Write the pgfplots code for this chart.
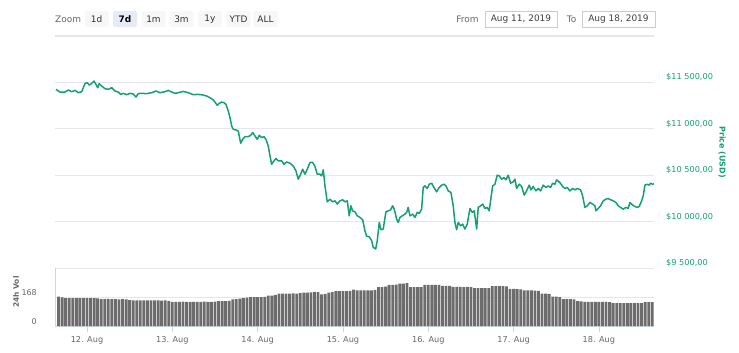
\documentclass[border=0pt]{standalone}
\usepackage{pgfplots}
\pgfplotsset{compat=1.18}
\usepackage{fontspec}
\setmainfont{DejaVu Sans}
\definecolor{cgreen}{RGB}{22,160,110}
\definecolor{gridc}{RGB}{230,230,230}
\definecolor{axc}{RGB}{204,214,235}
\definecolor{lab}{RGB}{102,102,102}
\definecolor{barc}{RGB}{108,108,108}
\definecolor{btn}{RGB}{247,247,247}
\definecolor{btnsel}{RGB}{230,235,245}
\definecolor{boxc}{RGB}{204,204,204}
\begin{document}
\begin{tikzpicture}[x=1bp,y=1bp]
\path[use as bounding box] (0,0) rectangle (739,-352);
% toolbar
\node[anchor=west, inner sep=0, text=lab, font=\fontsize{9}{10}\selectfont] at (55,-19) {Zoom};
\foreach \cx/\t in {96.5/1d, 153.5/1m, 181.5/3m, 210/1y, 238.5/YTD, 265.5/ALL}
  \node[fill=btn, rounded corners=1.5bp, minimum width=24bp, minimum height=16bp, inner sep=0, text=black!80, font=\fontsize{9}{10}\selectfont] at (\cx,-19) {\t};
\node[fill=btnsel, rounded corners=1.5bp, minimum width=24bp, minimum height=16bp, inner sep=0, text=black, font=\fontsize{9}{10}\selectfont\bfseries] at (125,-19) {7d};
\node[text=lab, inner sep=0, font=\fontsize{9}{10}\selectfont] at (467.5,-19) {From};
\draw[boxc, line width=0.8bp] (485,-11) rectangle (557,-27);
\node[text=black!75, inner sep=0, font=\fontsize{9}{10}\selectfont] at (521,-19) {Aug 11, 2019};
\node[text=lab, inner sep=0, font=\fontsize{9}{10}\selectfont] at (571.5,-19) {To};
\draw[boxc, line width=0.8bp] (582,-11) rectangle (655,-27);
\node[text=black!75, inner sep=0, font=\fontsize{9}{10}\selectfont] at (618.5,-19) {Aug 18, 2019};
\draw[gridc, line width=1.5bp] (55,-36) -- (654,-36);

% price axis
\begin{axis}[at={(55bp,-268bp)}, anchor=south west, scale only axis,
  width=599bp, height=232bp, xmin=15, xmax=183.5, ymin=9500, ymax=12000,
  axis x line=none, axis y line*=right, y axis line style={draw=none},
  scaled y ticks=false,
  ytick={9500,10000,10500,11000,11500},
  yticklabels={\$9 500{,}00,\$10 000{,}00,\$10 500{,}00,\$11 000{,}00,\$11 500{,}00},
  yticklabel style={inner sep=0pt, anchor=west, xshift=12bp, yshift=5bp, text=cgreen, font=\fontsize{8.2}{10}\selectfont},
  ymajorgrids, grid style={gridc, line width=1bp}, major tick length=0pt, clip=false]
\addplot[cgreen, line width=1.5bp, line join=round] coordinates {
(15.28,11425)(16.41,11396)(17.81,11396)(18.74,11417)(19.70,11400)(20.63,11414)(21.55,11389)(22.51,11400)
(23.44,11489)(24.08,11496)(24.65,11471)(25.32,11489)(25.97,11514)(26.53,11478)(27.01,11443)(27.46,11486)
(28.13,11461)(29.06,11432)(29.99,11425)(30.95,11443)(31.88,11407)(32.80,11396)(33.48,11371)(34.21,11382)
(35.17,11368)(36.09,11382)(37.02,11375)(37.78,11342)(38.43,11379)(39.38,11382)(40.79,11379)(42.20,11389)
(43.41,11407)(44.53,11389)(45.94,11400)(46.87,11414)(47.82,11396)(48.75,11382)(49.68,11389)(51.08,11403)
(52.49,11389)(53.90,11368)(55.30,11371)(56.71,11364)(57.67,11353)(58.59,11335)(59.35,11317)(60.00,11288)
(60.65,11253)(61.21,11274)(61.88,11288)(62.53,11282)(63.09,11263)(63.74,11192)(64.22,11120)(64.70,11030)
(65.15,10995)(65.91,10987)(66.55,10976)(67.23,10844)(67.79,10887)(68.44,10916)(69.37,10916)(70.04,10930)
(70.61,10959)(71.25,10923)(71.90,10887)(72.46,10930)(73.13,10905)(73.78,10916)(74.34,10887)(74.99,10815)
(75.47,10708)(75.94,10618)(76.59,10654)(77.16,10680)(77.80,10654)(78.76,10654)(79.41,10618)(80.17,10643)
(81.09,10629)(82.02,10600)(82.78,10546)(83.43,10457)(84.10,10511)(84.66,10565)(85.31,10511)(85.96,10565)
(86.72,10637)(87.48,10637)(88.13,10594)(88.77,10511)(89.53,10511)(90.01,10493)(90.46,10558)(90.94,10385)
(91.58,10213)(92.34,10242)(93.10,10213)(93.75,10224)(94.39,10189)(95.16,10224)(95.91,10235)(96.56,10213)
(97.21,10224)(97.77,10062)(98.25,10170)(98.72,10116)(99.38,10106)(100.02,10062)(100.78,10045)(101.54,10019)
(102.19,9901)(102.66,9841)(103.39,9837)(104.07,9794)(104.52,9722)(105.20,9705)(105.65,9794)(106.21,9991)
(106.69,9912)(107.33,9920)(108.09,10106)(108.74,10116)(109.42,10127)(109.98,10170)(110.43,10134)(111.10,10027)
(111.55,9991)(112.03,10045)(112.68,10062)(113.44,10081)(113.91,10099)(114.36,10153)(114.84,10062)(115.60,10081)
(116.25,10045)(116.89,10099)(117.46,10088)(118.13,10134)(118.58,10368)(119.06,10385)(119.71,10357)(120.27,10403)
(120.94,10414)(121.59,10368)(122.35,10321)(123.08,10368)(123.76,10393)(124.41,10403)(124.97,10385)(125.62,10331)
(126.38,10314)(127.02,10170)(127.50,9991)(127.98,9912)(128.43,9991)(129.10,9955)(129.67,9973)(130.31,9920)
(130.96,9973)(131.72,10142)(132.37,10099)(132.93,10116)(133.61,9920)(134.05,10153)(134.73,10170)(135.29,10189)
(135.94,10142)(136.58,10153)(137.15,10116)(138.10,10385)(138.75,10403)(139.39,10500)(139.96,10493)(140.63,10457)
(141.28,10475)(141.84,10450)(142.49,10500)(143.16,10414)(143.90,10429)(144.38,10457)(144.85,10357)(145.58,10403)
(146.26,10379)(146.99,10286)(147.66,10331)(148.39,10393)(148.88,10342)(149.52,10379)(150.28,10331)(150.93,10357)
(151.60,10331)(152.33,10393)(153.09,10368)(153.74,10385)(154.41,10368)(154.97,10414)(155.63,10403)(156.10,10450)
(157.03,10421)(157.79,10379)(158.44,10357)(159.08,10368)(159.84,10331)(160.60,10357)(161.25,10342)(161.89,10357)
(162.85,10342)(163.41,10278)(164.06,10153)(164.71,10170)(165.47,10206)(166.23,10189)(166.88,10170)(167.16,10116)
(167.80,10142)(168.48,10170)(169.21,10224)(169.97,10242)(170.62,10249)(171.29,10235)(172.03,10224)(172.78,10206)
(173.43,10170)(174.11,10153)(174.84,10134)(175.59,10153)(176.24,10142)(176.72,10206)(177.48,10178)(178.13,10163)
(178.77,10153)(179.34,10163)(180.01,10224)(180.47,10278)(180.94,10393)(181.59,10403)(182.16,10393)(182.55,10414)
(183.11,10403)(183.48,10407)};
\end{axis}
\node[rotate=-90, text=cgreen, inner sep=0, font=\fontsize{8}{10}\selectfont\bfseries] at (722,-152) {Price (USD)};

% volume axis
\begin{axis}[at={(55bp,-326bp)}, anchor=south west, scale only axis,
  width=599bp, height=58bp, xmin=15, xmax=183.5, ymin=0, ymax=336,
  axis x line*=bottom, axis y line*=left,
  x axis line style={axc, line width=1bp}, y axis line style={axc, line width=0.8bp},
  xtick={24,48,72,96,120,144,168},
  xticklabels={12. Aug,13. Aug,14. Aug,15. Aug,16. Aug,17. Aug,18. Aug},
  xtick style={axc, line width=0.8bp}, tick align=outside, major tick length=6bp,
  xticklabel style={text=lab, font=\fontsize{8.2}{10}\selectfont, yshift=-1bp},
  ytick={0,168}, yticklabels={0,168}, ytick style={draw=none},
  yticklabel style={inner sep=0pt, anchor=east, xshift=-12bp, yshift=4bp, text=lab, font=\fontsize{8}{9}\selectfont},
  ymajorgrids, grid style={gridc, line width=1bp}, clip=false]
\addplot[ybar, bar width=0.8, fill=barc, draw=none] coordinates {
(16,170)(17,166)(18,162)(19,161)(20,162)(21,162)(22,161)(23,162)(24,162)(25,161)(26,162)(27,160)
(28,156)(29,156)(30,157)(31,156)(32,156)(33,155)(34,156)(35,155)(36,150)
(37,148)(38,148)(39,149)(40,148)(41,148)(42,148)(43,149)(44,148)(45,147)(46,148)(47,146)
(48,140)(49,140)(50,140)(51,141)(52,140)(53,140)(54,140)(55,140)(56,140)(57,141)(58,140)(59,140)(60,141)
(61,144)(62,144)(63,144)(64,146)(65,154)(66,156)(67,158)(68,162)(69,164)
(70,168)(71,168)(72,167)(73,168)(74,169)(75,176)(76,176)(77,180)
(78,188)(79,188)(80,188)(81,188)(82,189)(83,188)(84,190)(85,194)(86,194)(87,195)(88,198)(89,197)
(90,184)(91,186)(92,194)(93,196)(94,202)(95,202)(96,202)(97,202)(98,203)(99,211)
(100,207)(101,207)(102,207)(103,207)(104,207)(105,208)(106,225)(107,225)(108,228)
(109,239)(110,239)(111,240)(112,245)(113,245)(114,249)(115,225)(116,225)(117,225)(118,226)
(119,239)(120,239)(121,239)(122,238)(123,238)(124,233)(125,233)(126,232)
(127,227)(128,227)(129,227)(130,226)(131,227)(132,226)(133,219)(134,219)(135,219)(136,219)(137,220)
(138,231)(139,231)(140,231)(141,231)(142,229)(143,215)(144,215)(145,214)(146,212)
(147,206)(148,206)(149,206)(150,205)(151,204)(152,188)(153,188)(154,186)(155,170)(156,170)(157,168)
(158,156)(159,156)(160,156)(161,155)(162,144)(163,143)
(164,140)(165,140)(166,140)(167,140)(168,140)(169,140)(170,140)(171,139)
(172,132)(173,132)(174,132)(175,132)(176,132)(177,132)(178,132)(179,132)(180,132)
(181,138)(182,138)(183,139)};
\end{axis}
\node[rotate=90, text=lab, inner sep=0, font=\fontsize{7.5}{9}\selectfont\bfseries] at (16,-292) {24h Vol};
\end{tikzpicture}
\end{document}
